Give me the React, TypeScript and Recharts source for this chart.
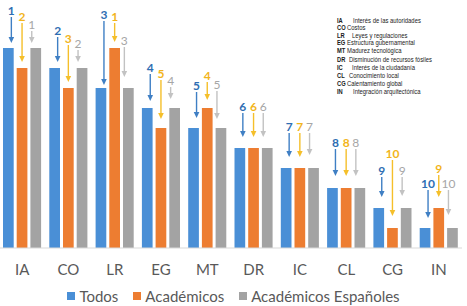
import React from 'react';
import { BarChart, Bar, XAxis, YAxis, Legend, LabelList } from 'recharts';

// ---------- data ----------
const categories = ['IA', 'CO', 'LR', 'EG', 'MT', 'DR', 'IC', 'CL', 'CG', 'IN'];
const rankTodos = [1, 2, 3, 4, 5, 6, 7, 8, 9, 10];
const rankAcademicos = [2, 3, 1, 5, 4, 6, 7, 8, 10, 9];
const rankEspanoles = [1, 2, 3, 4, 5, 6, 7, 8, 9, 10];
const seriesNames = ['Todos', 'Académicos', 'Académicos Españoles'];
const glossaryCodes = ['IA', 'CO', 'LR', 'EG', 'MT', 'DR', 'IC', 'CL', 'CG', 'IN'];
const glossaryTerms = [
  'Interés de las autoridades',
  'Costos',
  'Leyes y regulaciones',
  'Estructura gubernamental',
  'Madurez tecnológica',
  'Disminución de recursos fósiles',
  'Interés de la ciudadanía',
  'Conocimiento local',
  'Calentamiento global',
  'Integración arquitectónica',
];

const MAX_RANK = 10;
const keys = ['todos', 'academicos', 'espanoles'];
const ranks = [rankTodos, rankAcademicos, rankEspanoles];

const data = categories.map((cat, i) => ({
  cat,
  todos: MAX_RANK + 1 - rankTodos[i],
  academicos: MAX_RANK + 1 - rankAcademicos[i],
  espanoles: MAX_RANK + 1 - rankEspanoles[i],
}));

// ---------- styles / annotation layout ----------
const W = 467;
const H = 306;
const barColors = ['#4A8FD6', '#ED7D31', '#A3A3A3'];
const labelColors = ['#2F6EB3', '#F2B51C', '#A6A6A6'];
const arrowColors = ['#3F7FC4', '#F5BF2A', '#C2C2C2'];
const labelWeights = [700, 700, 400];
const arrowShift = [3, 0, -4];
const labelLift = [
  [38, 38, 74, 41, 43, 42, 42, 46, 38, 45],
  [52, 50, 32, 55, 33, 42, 42, 46, 75, 40],
  [24, 25, 48, 28, 44, 42, 42, 46, 38, 45],
];
const tipGap = [
  [5, 6, 3, 7, 10, 11, 11, 12, 11, 10],
  [6, 6, 6, 9, 8, 11, 11, 12, 12, 11],
  [5, 6, 11, 9, 9, 11, 13, 12, 12, 13],
];
const glossaryY = [20, 27.5, 35, 42.5, 50.5, 59.5, 67.5, 75.5, 83.5, 91];
const glossaryTermX = [353, 347, 352, 347, 347, 349, 352, 349, 347, 353];

const FONT = 'Lato, "Open Sans", sans-serif';
const GLOSS_FONT = '"Liberation Sans", Arial, sans-serif';

const makeArrowLabel = (s: number) => (props: any) => {
  const { x, y, width, index } = props;
  const cx = Number(x) + Number(width) / 2 + arrowShift[s];
  const top = Number(y);
  const ly = top - labelLift[s][index];
  const tip = top - tipGap[s][index];
  const start = ly + 7;
  return (
    <g>
      <text
        x={cx}
        y={ly}
        textAnchor="middle"
        dominantBaseline="central"
        fontFamily={FONT}
        fontSize={12}
        fontWeight={labelWeights[s]}
        fill={labelColors[s]}
      >
        {ranks[s][index]}
      </text>
      <line x1={cx} y1={start} x2={cx} y2={tip - 5} stroke={arrowColors[s]} strokeWidth={1.4} />
      <polygon
        points={`${cx - 2.8},${tip - 6} ${cx + 2.8},${tip - 6} ${cx},${tip}`}
        fill={arrowColors[s]}
      />
    </g>
  );
};

const renderLegend = () => (
  <div
    style={{
      display: 'flex',
      justifyContent: 'center',
      alignItems: 'center',
      height: 20,
      fontFamily: FONT,
      fontSize: 15,
      color: '#595959',
      paddingLeft: 0,
    }}
  >
    {seriesNames.map((n, i) => (
      <span key={n} style={{ display: 'flex', alignItems: 'center', marginRight: i < 2 ? 15 : 0 }}>
        <span style={{ width: 8, height: 8, background: barColors[i], marginRight: 4, display: 'inline-block' }} />
        <span>{n}</span>
      </span>
    ))}
  </div>
);

export default function App() {
  return (
    <div style={{ position: 'absolute', left: 0, top: 0, width: W, height: H, background: '#fff' }}>
      <BarChart
        width={W}
        height={H}
        data={data}
        margin={{ top: 48, right: 5, bottom: 0, left: -1 }}
        barSize={10.7}
        barGap={3}
      >
        <XAxis
          dataKey="cat"
          tickLine={false}
          axisLine={{ stroke: '#D9D9D9' }}
          height={38}
          tickMargin={10}
          tick={{ fill: '#595959', fontSize: 15, fontFamily: FONT }}
          interval={0}
        />
        <YAxis hide domain={[0, 10]} />
        <Legend verticalAlign="bottom" height={20} wrapperStyle={{ left: 0, width: W }} content={renderLegend} />
        {keys.map((k, s) => (
          <Bar key={k} dataKey={k} name={seriesNames[s]} fill={barColors[s]} isAnimationActive={false}>
            <LabelList dataKey={k} content={makeArrowLabel(s)} />
          </Bar>
        ))}
      </BarChart>
      <svg
        width={W}
        height={110}
        style={{ position: 'absolute', left: 0, top: 0, pointerEvents: 'none' }}
      >
        {glossaryCodes.map((c, i) => (
          <g key={c}>
            <g transform={`translate(337,${glossaryY[i]}) scale(0.8,1)`}>
              <text
                x={0}
                y={0}
                dominantBaseline="central"
                fontFamily={GLOSS_FONT}
                fontSize={7.2}
                fontWeight={700}
                fill="#1a1a1a"
              >
                {c}
              </text>
            </g>
            <g transform={`translate(${glossaryTermX[i]},${glossaryY[i]}) scale(0.82,1)`}>
              <text
                x={0}
                y={0}
                dominantBaseline="central"
                fontFamily={GLOSS_FONT}
                fontSize={7.2}
                fill="#1a1a1a"
              >
                {glossaryTerms[i]}
              </text>
            </g>
          </g>
        ))}
      </svg>
    </div>
  );
}
